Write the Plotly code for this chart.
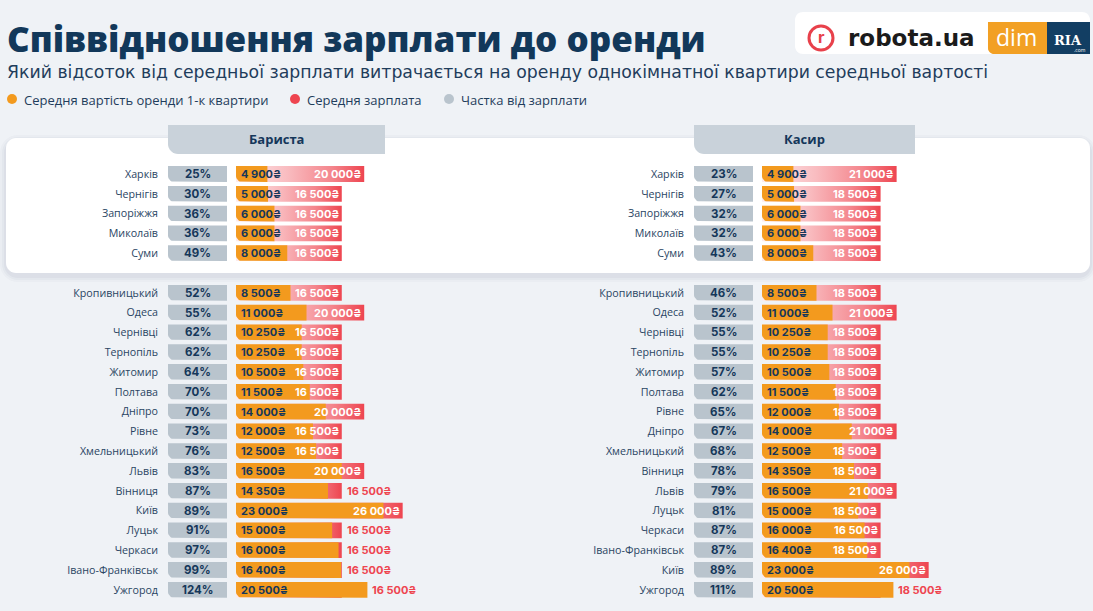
import math
import plotly.graph_objects as go

W, H = 1093, 611

# ---------------- data ----------------
title = "Співвідношення зарплати до оренди"
subtitle = ("Який відсоток від середньої зарплати витрачається на оренду "
            "однокімнатної квартири середньої вартості")
legend_labels = ["Середня вартість оренди 1-к квартири", "Середня зарплата", "Частка від зарплати"]
panel_titles = ["Бариста", "Касир"]

barista_cities = ["Харків", "Чернігів", "Запоріжжя", "Миколаїв", "Суми", "Кропивницький",
                  "Одеса", "Чернівці", "Тернопіль", "Житомир", "Полтава", "Дніпро", "Рівне",
                  "Хмельницький", "Львів", "Вінниця", "Київ", "Луцьк", "Черкаси",
                  "Івано-Франківськ", "Ужгород"]
barista_rent = [4900, 5000, 6000, 6000, 8000, 8500, 11000, 10250, 10250, 10500, 11500, 14000,
                12000, 12500, 16500, 14350, 23000, 15000, 16000, 16400, 20500]
barista_salary = [20000, 16500, 16500, 16500, 16500, 16500, 20000, 16500, 16500, 16500, 16500,
                  20000, 16500, 16500, 20000, 16500, 26000, 16500, 16500, 16500, 16500]
barista_share = [25, 30, 36, 36, 49, 52, 55, 62, 62, 64, 70, 70, 73, 76, 83, 87, 89, 91, 97, 99, 124]
barista_salary_labels = ["20 000₴", "16 500₴", "16 500₴", "16 500₴", "16 500₴", "16 500₴",
                         "20 000₴", "16 500₴", "16 500₴", "16 500₴", "16 500₴", "20 000₴",
                         "16 500₴", "16 500₴", "20 000₴", "16 500₴", "26 000₴", "16 500₴",
                         "16 500₴", "16 500₴", "16 500₴"]

kasyr_cities = ["Харків", "Чернігів", "Запоріжжя", "Миколаїв", "Суми", "Кропивницький",
                "Одеса", "Чернівці", "Тернопіль", "Житомир", "Полтава", "Рівне", "Дніпро",
                "Хмельницький", "Вінниця", "Львів", "Луцьк", "Черкаси", "Івано-Франківськ",
                "Київ", "Ужгород"]
kasyr_rent = [4900, 5000, 6000, 6000, 8000, 8500, 11000, 10250, 10250, 10500, 11500, 12000,
              14000, 12500, 14350, 16500, 15000, 16000, 16400, 23000, 20500]
kasyr_salary = [21000, 18500, 18500, 18500, 18500, 18500, 21000, 18500, 18500, 18500, 18500,
                18500, 21000, 18500, 18500, 21000, 18500, 18500, 18500, 26000, 18500]
kasyr_share = [23, 27, 32, 32, 43, 46, 52, 55, 55, 57, 62, 65, 67, 68, 78, 79, 81, 87, 87, 89, 111]
kasyr_salary_labels = ["21 000₴", "18 500₴", "18 500₴", "18 500₴", "18 500₴", "18 500₴",
                       "21 000₴", "18 500₴", "18 500₴", "18 500₴", "18 500₴", "18 500₴",
                       "21 000₴", "18 500₴", "18 500₴", "21 000₴", "18 500₴", "16 500₴",
                       "18 500₴", "26 000₴", "18 500₴"]

# ---------------- style ----------------
BG = "#eff2f6"
NAVY = "#15375a"
TXT = "#2a4563"
ORANGE = "#f39a1e"
RED = "#ee4550"
GREY_BOX = "#b9c4cd"
HEAD_BOX = "#c9d2da"
FONT = "Open Sans"
NUM_FONT = "Inter"
NUM_SIZE = 11

UAH_PER_PX = 156.0
ROW_PX = 19.8
FIRST_ROW_PX = 174
BAR_H = 0.8
N_TOP = 5


def fmt(v):
    return f"{v:,}".replace(",", " ") + "₴"


def px_x(x):
    return x / W


def px_y(y):
    return 1 - y / H


def bl_round_rect(x0, x1, yc, h, r_px):
    rx = r_px * UAH_PER_PX
    ry = r_px / ROW_PX
    top, bot = yc - h / 2, yc + h / 2
    xs = [x0, x1, x1, x0 + rx]
    ys = [top, top, bot, bot]
    for t in range(1, 8):
        a = math.pi / 2 * t / 8
        xs.append(x0 + rx - rx * math.sin(a))
        ys.append(bot - ry + ry * math.cos(a))
    xs += [x0, x0]
    ys += [bot - ry, top]
    return xs, ys


def rounded_path_px(x0, y0, x1, y1, r_tl=0, r_tr=0, r_br=0, r_bl=0, n=8):
    pts = []

    def arc(cx, cy, r, a0, a1):
        for t in range(n + 1):
            a = a0 + (a1 - a0) * t / n
            pts.append((cx + r * math.cos(a), cy + r * math.sin(a)))
    arc(x0 + r_tl, y0 + r_tl, r_tl, math.pi, 1.5 * math.pi)
    arc(x1 - r_tr, y0 + r_tr, r_tr, 1.5 * math.pi, 2 * math.pi)
    arc(x1 - r_br, y1 - r_br, r_br, 0, 0.5 * math.pi)
    arc(x0 + r_bl, y1 - r_bl, r_bl, 0.5 * math.pi, math.pi)
    s = "M " + " L ".join(f"{px_x(x):.5f},{px_y(y):.5f}" for x, y in pts) + " Z"
    return s


fig = go.Figure()
annotations = []
shapes = []

# ---------------- background decorations ----------------
for i, a in enumerate([0.025, 0.03, 0.04]):
    g = 6 - 2 * i
    shapes.append(dict(type="path", xref="paper", yref="paper", layer="below",
                       path=rounded_path_px(6 - g, 138 - g + 3, 1090 + g, 273 + g + 3, 12 + g, 12 + g, 12 + g, 12 + g),
                       fillcolor=f"rgba(40,60,90,{a})", line=dict(width=0)))
shapes.append(dict(type="path", xref="paper", yref="paper", layer="below",
                   path=rounded_path_px(6, 138, 1090, 273, 10, 10, 10, 10),
                   fillcolor="white", line=dict(width=0)))

panels = [
    dict(name=panel_titles[0], cities=barista_cities, rent=barista_rent, salary=barista_salary,
         share=barista_share, slabels=barista_salary_labels, xa="x", ya="y",
         dom=(168, 546), start=236, head=(168, 385), near=2200),
    dict(name=panel_titles[1], cities=kasyr_cities, rent=kasyr_rent, salary=kasyr_salary,
         share=kasyr_share, slabels=kasyr_salary_labels, xa="x2", ya="y2",
         dom=(694, 1093), start=762, head=(694, 915), near=0),
]

y_top_px = FIRST_ROW_PX - 0.5 * ROW_PX
y_bot_px = FIRST_ROW_PX + 21.5 * ROW_PX

for p in panels:
    n = len(p["cities"])
    pos = [i if i < N_TOP else i + 1 for i in range(n)]
    box0 = (p["dom"][0] - p["start"]) * UAH_PER_PX
    box1 = (p["dom"][0] + 59 - p["start"]) * UAH_PER_PX
    box_c = (box0 + box1) / 2

    # salary bars (gradient)
    for yv, s in zip(pos, p["salary"]):
        top, bot = yv - BAR_H / 2, yv + BAR_H / 2
        fig.add_trace(go.Scatter(
            x=[0, s, s, 0, 0], y=[top, top, bot, bot, top], mode="lines", fill="toself",
            line=dict(width=0, color=RED),
            fillgradient=dict(type="horizontal",
                              colorscale=[[0, "#fdebed"], [0.4, "#f9bcc0"], [0.75, "#f4858c"], [1, RED]]),
            xaxis=p["xa"], yaxis=p["ya"], hoverinfo="skip", showlegend=False))

    # rent bars
    rx, ry = [], []
    for yv, r in zip(pos, p["rent"]):
        xs, ys = bl_round_rect(0, r, yv, BAR_H, 6)
        rx += xs + [None]
        ry += ys + [None]
    fig.add_trace(go.Scatter(x=rx, y=ry, mode="lines", fill="toself", fillcolor=ORANGE,
                             line=dict(width=0, color=ORANGE), xaxis=p["xa"], yaxis=p["ya"],
                             hoverinfo="skip", showlegend=False))

    # share boxes
    bx, by = [], []
    for yv in pos:
        xs, ys = bl_round_rect(box0, box1, yv, BAR_H, 6)
        bx += xs + [None]
        by += ys + [None]
    fig.add_trace(go.Scatter(x=bx, y=by, mode="lines", fill="toself", fillcolor=GREY_BOX,
                             line=dict(width=0, color=GREY_BOX), xaxis=p["xa"], yaxis=p["ya"],
                             hoverinfo="skip", showlegend=False))

    for yv, r, s, sh, sl in zip(pos, p["rent"], p["salary"], p["share"], p["slabels"]):
        annotations.append(dict(x=box_c, y=yv, xref=p["xa"], yref=p["ya"], text=f"<b>{sh}%</b>",
                                showarrow=False, xanchor="center", yanchor="middle",
                                font=dict(size=NUM_SIZE + 0.5, color=NAVY, family=NUM_FONT)))
        annotations.append(dict(x=0, y=yv, xref=p["xa"], yref=p["ya"], text=f"<b>{fmt(r)}</b>",
                                showarrow=False, xanchor="left", yanchor="middle", xshift=3,
                                font=dict(size=NUM_SIZE, color=NAVY, family=NUM_FONT)))
        outside = r >= s or (s - r) < p["near"]
        if outside:
            annotations.append(dict(x=max(r, s), y=yv, xref=p["xa"], yref=p["ya"],
                                    text=f"<b>{sl}</b>", showarrow=False, xanchor="left",
                                    yanchor="middle", xshift=3,
                                    font=dict(size=NUM_SIZE, color=RED, family=NUM_FONT)))
        else:
            annotations.append(dict(x=s, y=yv, xref=p["xa"], yref=p["ya"],
                                    text=f"<b>{sl}</b>", showarrow=False, xanchor="right",
                                    yanchor="middle", xshift=-1,
                                    font=dict(size=NUM_SIZE, color="white", family=NUM_FONT)))

    # header box
    h0, h1 = p["head"]
    shapes.append(dict(type="path", xref="paper", yref="paper", layer="above",
                       path=rounded_path_px(h0, 125, h1, 154, 0, 0, 0, 10),
                       fillcolor=HEAD_BOX, line=dict(width=0)))
    annotations.append(dict(x=px_x((h0 + h1) / 2), y=px_y(139.5), xref="paper", yref="paper",
                            text=f"<b>{p['name']}</b>", showarrow=False, xanchor="center",
                            yanchor="middle", font=dict(size=13, color=NAVY, family=FONT)))

    ax_key = "xaxis" if p["xa"] == "x" else "xaxis2"
    ay_key = "yaxis" if p["ya"] == "y" else "yaxis2"
    fig.update_layout(**{
        ax_key: dict(domain=[px_x(p["dom"][0]), px_x(p["dom"][1])],
                     range=[(p["dom"][0] - p["start"]) * UAH_PER_PX, (p["dom"][1] - p["start"]) * UAH_PER_PX],
                     visible=False, anchor=p["ya"], fixedrange=True),
        ay_key: dict(domain=[px_y(y_bot_px), px_y(y_top_px)], range=[21.5, -0.5],
                     tickmode="array", tickvals=pos, ticktext=p["cities"], showgrid=False,
                     zeroline=False, showline=False, ticks="", ticklabelstandoff=9,
                     tickfont=dict(size=10.7, color=TXT, family=FONT), anchor=p["xa"],
                     fixedrange=True),
    })

# ---------------- title, subtitle, legend ----------------
annotations.append(dict(x=px_x(5), y=px_y(39), xref="paper", yref="paper", text=title,
                        showarrow=False, xanchor="left", yanchor="middle",
                        font=dict(size=35, color="#12385a", family=FONT, weight=800)))
annotations.append(dict(x=px_x(5), y=px_y(72), xref="paper", yref="paper", text=subtitle,
                        showarrow=False, xanchor="left", yanchor="middle",
                        font=dict(size=17.3, color="#1f3d5c", family="DejaVu Sans")))
leg_x = [12, 295, 449]
leg_c = [ORANGE, RED, GREY_BOX]
for lx, lc, lt in zip(leg_x, leg_c, legend_labels):
    shapes.append(dict(type="circle", xref="paper", yref="paper",
                       x0=px_x(lx - 5), x1=px_x(lx + 5), y0=px_y(104), y1=px_y(94),
                       fillcolor=lc, line=dict(width=0)))
    annotations.append(dict(x=px_x(lx + 10), y=px_y(99.5), xref="paper", yref="paper", text=lt,
                            showarrow=False, xanchor="left", yanchor="middle",
                            font=dict(size=13, color="#1f3d5c", family=FONT)))

# ---------------- logos ----------------
shapes.append(dict(type="path", xref="paper", yref="paper",
                   path=rounded_path_px(795, 12, 1090, 54, 8, 8, 8, 8),
                   fillcolor="white", line=dict(width=0)))
shapes.append(dict(type="circle", xref="paper", yref="paper",
                   x0=px_x(809), x1=px_x(833), y0=px_y(50), y1=px_y(26),
                   fillcolor="white", line=dict(width=3, color="#e8414b")))
annotations.append(dict(x=px_x(821.5), y=px_y(37.5), xref="paper", yref="paper", text="<b>r</b>",
                        showarrow=False, xanchor="center", yanchor="middle",
                        font=dict(size=16, color="#e8414b", family="Inter")))
annotations.append(dict(x=px_x(846), y=px_y(38), xref="paper", yref="paper", text="<b>robota.ua</b>",
                        showarrow=False, xanchor="left", yanchor="middle",
                        font=dict(size=23, color="#1b1b1b", family="DejaVu Sans", weight=800)))
shapes.append(dict(type="path", xref="paper", yref="paper",
                   path=rounded_path_px(988, 22, 1047, 54, 0, 0, 0, 6),
                   fillcolor="#f2a024", line=dict(width=0)))
shapes.append(dict(type="rect", xref="paper", yref="paper",
                   x0=px_x(1047), x1=px_x(1090), y0=px_y(54), y1=px_y(22),
                   fillcolor="#123e63", line=dict(width=0)))
annotations.append(dict(x=px_x(1016), y=px_y(37), xref="paper", yref="paper", text="dim",
                        showarrow=False, xanchor="center", yanchor="middle",
                        font=dict(size=23, color="white", family=FONT)))
annotations.append(dict(x=px_x(1068), y=px_y(40), xref="paper", yref="paper", text="<b>RIA</b>",
                        showarrow=False, xanchor="center", yanchor="middle",
                        font=dict(size=13, color="white", family="DejaVu Serif")))
annotations.append(dict(x=px_x(1080), y=px_y(50), xref="paper", yref="paper", text=".com",
                        showarrow=False, xanchor="center", yanchor="middle",
                        font=dict(size=5, color="white", family=FONT)))

fig.update_layout(
    width=W, height=H, margin=dict(l=0, r=0, t=0, b=0),
    paper_bgcolor=BG, plot_bgcolor="rgba(0,0,0,0)",
    showlegend=False, annotations=annotations, shapes=shapes,
    font=dict(family=FONT, color=TXT),
)

fig.write_html("out.html", config={"displayModeBar": False})
